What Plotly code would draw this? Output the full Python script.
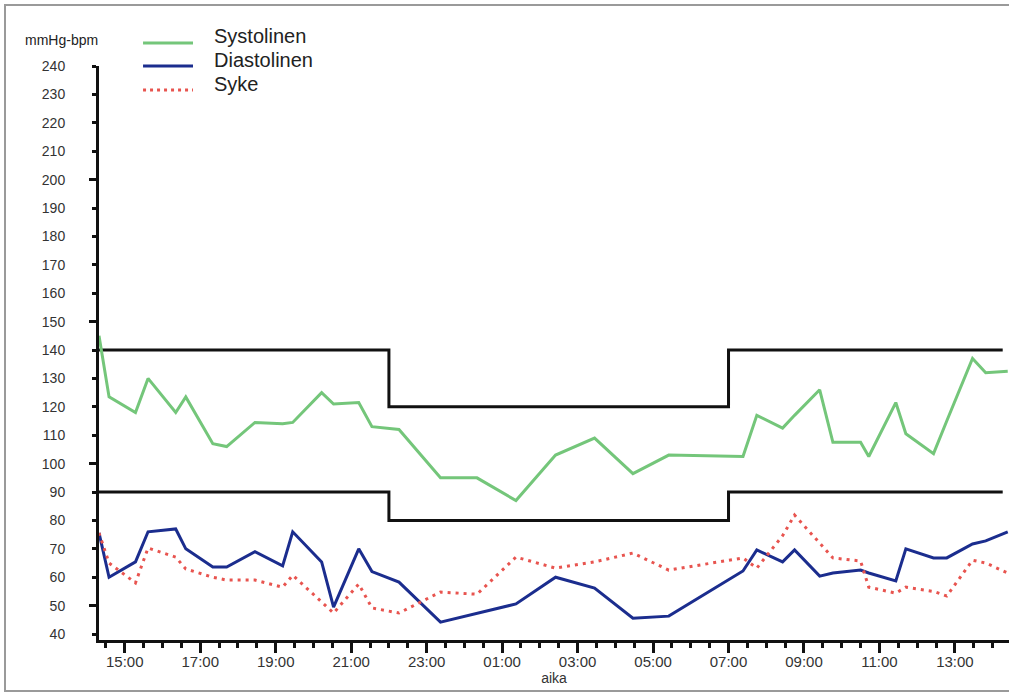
import plotly.graph_objects as go

# ---- data ----
times = ["2024-01-01 14:19", "2024-01-01 14:35", "2024-01-01 15:17", "2024-01-01 15:37",
         "2024-01-01 16:21", "2024-01-01 16:37", "2024-01-01 17:20", "2024-01-01 17:42",
         "2024-01-01 18:27", "2024-01-01 19:11", "2024-01-01 19:27", "2024-01-01 20:13",
         "2024-01-01 20:32", "2024-01-01 21:12", "2024-01-01 21:33", "2024-01-01 22:16",
         "2024-01-01 23:22", "2024-01-02 00:20", "2024-01-02 01:22", "2024-01-02 02:25",
         "2024-01-02 03:27", "2024-01-02 04:28", "2024-01-02 05:25", "2024-01-02 07:23",
         "2024-01-02 07:45", "2024-01-02 08:26", "2024-01-02 08:45", "2024-01-02 09:25",
         "2024-01-02 09:46", "2024-01-02 10:30", "2024-01-02 10:43", "2024-01-02 11:26",
         "2024-01-02 11:42", "2024-01-02 12:26", "2024-01-02 12:47", "2024-01-02 13:28",
         "2024-01-02 13:49", "2024-01-02 14:24"]

systolic = [145, 123.5, 118, 130, 118, 123.5, 107, 106, 114.5, 114, 114.5, 125, 121, 121.5,
            113, 112, 95, 95, 87, 103, 109, 96.5, 103, 102.5, 117, 112.5, 117, 126, 107.5,
            107.5, 102.5, 121.5, 110.5, 103.5, 115, 137, 132, 132.5]

diastolic = [75.6, 60, 65.4, 76, 77, 70, 63.6, 63.6, 69, 64, 76, 65.4, 49.5, 70, 62, 58.3,
             44.2, 47.4, 50.6, 60, 56.2, 45.6, 46.3, 62.2, 69.6, 65.4, 69.6, 60.4, 61.5,
             62.5, 61.5, 58.7, 70, 66.8, 66.8, 71.7, 72.8, 76]

pulse = [75.6, 65, 58, 70.3, 67.1, 62.9, 60, 59, 59, 56.5, 60.7, 51.3, 47.4, 57.6, 49.2,
         47.4, 54.8, 54, 67.1, 63.2, 65.4, 68.5, 62.5, 66.8, 63.2, 74.6, 81.9, 72, 66.8,
         65.7, 56.5, 54.4, 56.5, 55, 53.4, 66, 65, 61.5]

limit_times = ["2024-01-01 14:19", "2024-01-01 22:00", "2024-01-02 07:00", "2024-01-02 14:16"]
sys_limit = [140, 120, 140, 140]
dia_limit = [90, 80, 90, 90]

series_names = ["Systolinen", "Diastolinen", "Syke"]
y_title = "mmHg-bpm"
x_title = "aika"

GREEN = "#74c67a"
BLUE = "#1b2d8e"
RED = "#e8544f"
FONT = "Liberation Sans, Arial, sans-serif"

fig = go.Figure()

# limit step lines
for lim in (sys_limit, dia_limit):
    fig.add_trace(go.Scatter(x=limit_times, y=lim, mode="lines", line_shape="hv",
                             line=dict(color="#111111", width=3), showlegend=False,
                             hoverinfo="skip"))

fig.add_trace(go.Scatter(x=times, y=systolic, mode="lines", name=series_names[0],
                         line=dict(color=GREEN, width=3), showlegend=False))
fig.add_trace(go.Scatter(x=times, y=diastolic, mode="lines", name=series_names[1],
                         line=dict(color=BLUE, width=3), showlegend=False))
fig.add_trace(go.Scatter(x=times, y=pulse, mode="lines", name=series_names[2],
                         line=dict(color=RED, width=3, dash="3px,5px"), showlegend=False))

# invisible trace to activate the overlay axis for long ticks
fig.add_trace(go.Scatter(x=[times[0]], y=[None], yaxis="y2", showlegend=False,
                         hoverinfo="skip"))

YR = [37.9, 240]

fig.update_layout(
    width=1009, height=695,
    margin=dict(l=99, r=0, t=66, b=55),
    paper_bgcolor="white", plot_bgcolor="white",
    font=dict(family=FONT, color="#333333", size=14),
    xaxis=dict(
        type="date",
        range=["2024-01-01 14:19", "2024-01-02 14:26"],
        tickformat="%H:%M",
        tick0="2024-01-01 15:00", dtick=2 * 3600 * 1000,
        ticks="outside", ticklen=10, tickwidth=2.5, tickcolor="#111111",
        minor=dict(dtick=30 * 60 * 1000, tick0="2024-01-01 15:00", ticks="outside",
                   ticklen=5, tickwidth=2.5, tickcolor="#111111", showgrid=False),
        showline=True, linecolor="#111111", linewidth=3,
        showgrid=False, zeroline=False,
        tickfont=dict(size=15, color="#333333"),
        ticklabelstandoff=-4,
        title=dict(text=x_title, font=dict(size=14, color="#333333"), standoff=2),
    ),
    yaxis=dict(
        range=YR, tick0=40, dtick=10,
        ticks="outside", ticklen=4, tickwidth=2.5, tickcolor="#111111",
        showline=True, linecolor="#111111", linewidth=3,
        showgrid=False, zeroline=False,
        tickfont=dict(size=14, color="#333333"),
        ticklabelstandoff=24,
    ),
    yaxis2=dict(
        range=YR, overlaying="y", side="left",
        tickvals=[50, 100, 150, 200], ticks="outside", ticklen=9, tickwidth=2.5,
        tickcolor="#111111", showticklabels=False, showline=False,
        showgrid=False, zeroline=False,
    ),
)

# hand-drawn legend (long sample lines, wide gap as in the reference)
legend_rows = [
    (series_names[0], dict(color=GREEN, width=3), 1.0401, 1.0523),
    (series_names[1], dict(color=BLUE, width=3), 1.0000, 1.0105),
    (series_names[2], dict(color=RED, width=3, dash="3px,4px"), 0.9582, 0.9686),
]
for name, ln, yl, yt in legend_rows:
    fig.add_shape(type="line", xref="paper", yref="paper", x0=0.0484, x1=0.1033,
                  y0=yl, y1=yl, line=ln)
    fig.add_annotation(text=name, xref="paper", yref="paper", x=0.1242, y=yt,
                       xanchor="left", yanchor="middle", showarrow=False,
                       font=dict(size=20, color="#222222", family=FONT))

# unit label above the y axis
fig.add_annotation(text=y_title, xref="paper", yref="paper", x=-0.0407, y=1.0453,
                   xanchor="center", yanchor="middle", showarrow=False,
                   font=dict(size=14, color="#222222", family=FONT))

# grey frame of the original printout
fig.add_shape(type="rect", xref="paper", yref="paper", x0=-0.1033, x1=1.01,
              y0=-0.0889, y1=1.1063, line=dict(color="#9a9a9a", width=2),
              fillcolor="rgba(0,0,0,0)", layer="below")

fig.write_html("out.html", config={"displayModeBar": False},
               post_script="document.body.style.margin='0';")
